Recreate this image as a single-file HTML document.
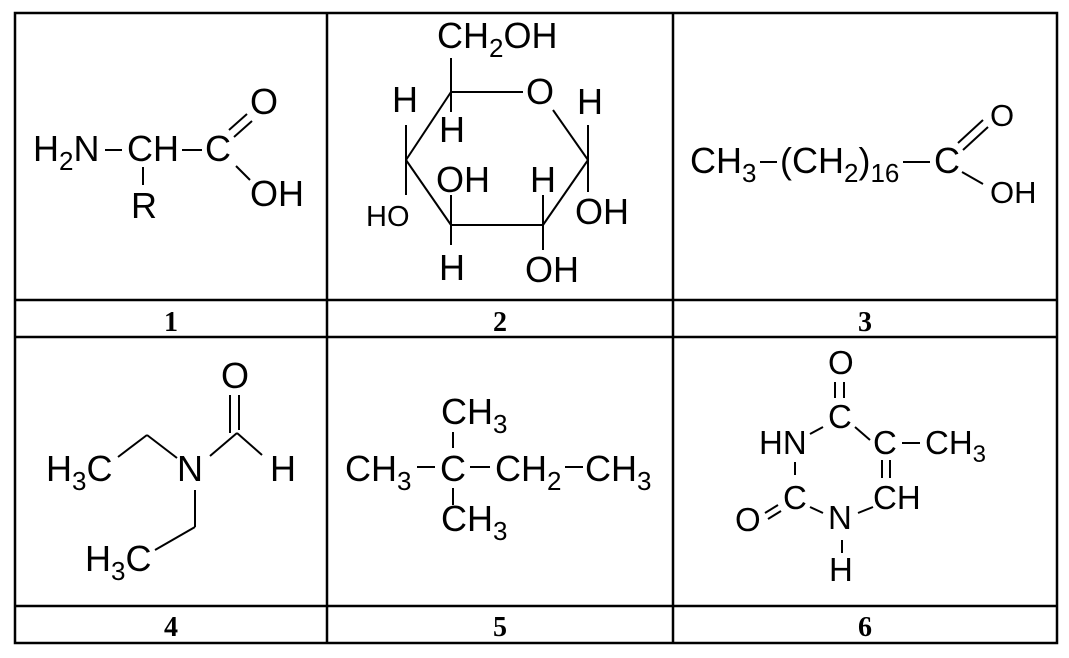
<!DOCTYPE html>
<html><head><meta charset="utf-8"><style>
html,body{margin:0;padding:0;background:#fff;}
svg{display:block;}
text{font-family:"Liberation Sans",Arial,sans-serif;fill:#000;}
.l{font-family:"Liberation Serif",serif;font-weight:bold;font-size:28px;}
</style></head><body>
<svg width="1069" height="658" viewBox="0 0 1069 658" xmlns="http://www.w3.org/2000/svg">
<g stroke="#000" stroke-width="2.5" fill="none">
<rect x="15" y="13" width="1042" height="630"/>
<line x1="327" y1="13" x2="327" y2="643"/>
<line x1="673" y1="13" x2="673" y2="643"/>
<line x1="15" y1="300" x2="1057" y2="300"/>
<line x1="15" y1="337" x2="1057" y2="337"/>
<line x1="15" y1="606" x2="1057" y2="606"/>
</g>
<g text-anchor="middle">
<text class="l" x="171" y="331">1</text>
<text class="l" x="500" y="331">2</text>
<text class="l" x="865" y="331">3</text>
<text class="l" x="171" y="636">4</text>
<text class="l" x="500" y="636">5</text>
<text class="l" x="865" y="636">6</text>
</g>
<g stroke="#000" stroke-width="2" fill="none">
<line x1="105" y1="150" x2="122" y2="150"/>
<line x1="182" y1="150" x2="202" y2="150"/>
<line x1="143" y1="167" x2="143" y2="185"/>
<line x1="229" y1="130" x2="247" y2="114"/>
<line x1="234" y1="137" x2="252" y2="121"/>
<line x1="236" y1="166" x2="250" y2="180"/>
<line x1="451" y1="58" x2="451" y2="112"/>
<line x1="451" y1="92" x2="523" y2="92"/>
<line x1="553" y1="110" x2="588" y2="160"/>
<line x1="588" y1="125" x2="588" y2="192"/>
<line x1="588" y1="160" x2="543" y2="225"/>
<line x1="543" y1="225" x2="451" y2="225"/>
<line x1="451" y1="225" x2="406" y2="160"/>
<line x1="406" y1="160" x2="451" y2="92"/>
<line x1="406" y1="125" x2="406" y2="195"/>
<line x1="451" y1="195" x2="451" y2="245"/>
<line x1="543" y1="195" x2="543" y2="250"/>
<line x1="760" y1="162" x2="777" y2="162"/>
<line x1="903" y1="162" x2="930" y2="162"/>
<line x1="958" y1="143" x2="983" y2="120"/>
<line x1="963" y1="150" x2="988" y2="127"/>
<line x1="962" y1="172" x2="983" y2="184"/>
<line x1="118" y1="457" x2="147" y2="435"/>
<line x1="147" y1="435" x2="177" y2="458"/>
<line x1="210" y1="456" x2="237" y2="433"/>
<line x1="237" y1="433" x2="262" y2="455"/>
<line x1="230" y1="395" x2="230" y2="433"/>
<line x1="239" y1="395" x2="239" y2="430"/>
<line x1="195" y1="490" x2="195" y2="527"/>
<line x1="195" y1="527" x2="155" y2="550"/>
<line x1="417" y1="467" x2="435" y2="467"/>
<line x1="470" y1="467" x2="490" y2="467"/>
<line x1="565" y1="467" x2="583" y2="467"/>
<line x1="453" y1="432" x2="453" y2="448"/>
<line x1="453" y1="488" x2="453" y2="505"/>
<line x1="835" y1="382" x2="835" y2="398"/>
<line x1="844" y1="382" x2="844" y2="398"/>
<line x1="810" y1="434" x2="823" y2="427"/>
<line x1="855" y1="427" x2="870" y2="440"/>
<line x1="902" y1="443" x2="920" y2="443"/>
<line x1="795" y1="462" x2="795" y2="475"/>
<line x1="882" y1="460" x2="882" y2="478"/>
<line x1="890" y1="460" x2="890" y2="478"/>
<line x1="765" y1="513" x2="778" y2="505"/>
<line x1="768" y1="519" x2="781" y2="511"/>
<line x1="810" y1="507" x2="823" y2="513"/>
<line x1="858" y1="513" x2="873" y2="507"/>
<line x1="842" y1="540" x2="842" y2="553"/>
</g>
<g font-size="36">
<text x="33" y="161">H<tspan font-size="26" dy="9">2</tspan><tspan dy="-9">N</tspan></text>
<text x="127" y="161">CH</text>
<text x="205" y="161">C</text>
<text x="131" y="218">R</text>
<text x="250" y="114">O</text>
<text x="250" y="206">OH</text>
<text x="437" y="48">CH<tspan font-size="26" dy="9">2</tspan><tspan dy="-9">OH</tspan></text>
<text x="526" y="104">O</text>
<text x="392" y="112">H</text>
<text x="439" y="142">H</text>
<text x="577" y="114">H</text>
<text x="436" y="192">OH</text>
<text x="530" y="192">H</text>
<text x="366" y="226" font-size="29">HO</text>
<text x="575" y="224">OH</text>
<text x="439" y="280">H</text>
<text x="525" y="282">OH</text>
<text x="690" y="173">CH<tspan font-size="26" dy="9">3</tspan></text>
<text x="780" y="173">(CH<tspan font-size="26" dy="9">2</tspan><tspan dy="-9">)</tspan><tspan font-size="26" dy="9">16</tspan></text>
<text x="934" y="173">C</text>
<text x="990" y="126" font-size="31">O</text>
<text x="990" y="203" font-size="31">OH</text>
<text x="46" y="481">H<tspan font-size="26" dy="9">3</tspan><tspan dy="-9">C</tspan></text>
<text x="177" y="481">N</text>
<text x="270" y="481">H</text>
<text x="221" y="388">O</text>
<text x="85" y="571">H<tspan font-size="26" dy="9">3</tspan><tspan dy="-9">C</tspan></text>
<text x="441" y="424">CH<tspan font-size="26" dy="9">3</tspan></text>
<text x="345" y="481">CH<tspan font-size="26" dy="9">3</tspan></text>
<text x="440" y="481">C</text>
<text x="495" y="481">CH<tspan font-size="26" dy="9">2</tspan></text>
<text x="585" y="481">CH<tspan font-size="26" dy="9">3</tspan></text>
<text x="441" y="531">CH<tspan font-size="26" dy="9">3</tspan></text>
</g>
<g font-size="33">
<text x="828" y="374">O</text>
<text x="828" y="428">C</text>
<text x="759" y="454">HN</text>
<text x="873" y="454">C</text>
<text x="925" y="454">CH<tspan font-size="24" dy="8">3</tspan></text>
<text x="783" y="509">C</text>
<text x="873" y="509">CH</text>
<text x="735" y="531">O</text>
<text x="828" y="529">N</text>
<text x="829" y="581">H</text>
</g>
</svg>
</body></html>
